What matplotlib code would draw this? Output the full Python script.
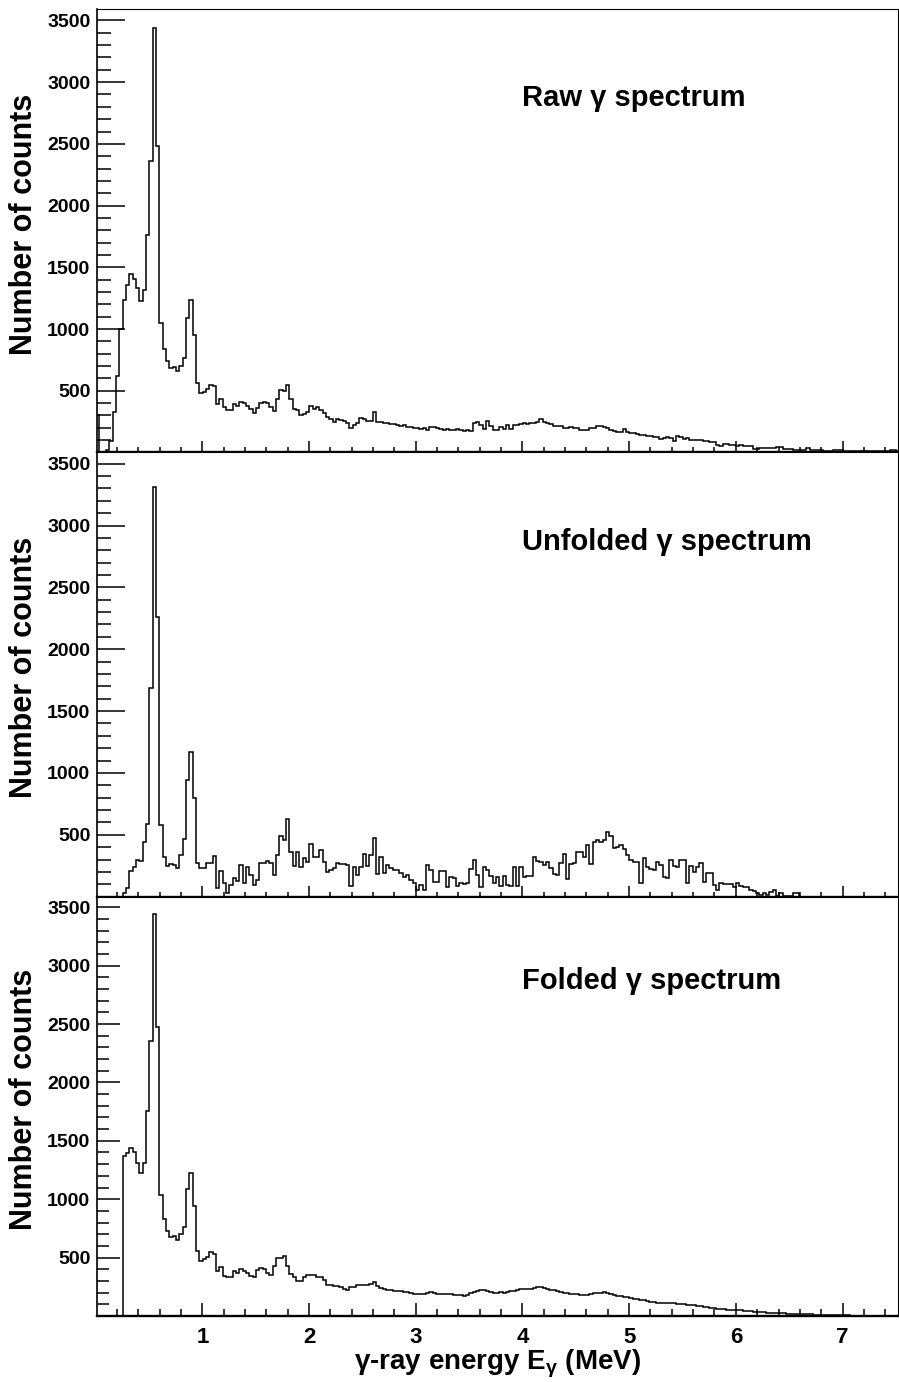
import numpy as np
import matplotlib
matplotlib.use("Agg")
import matplotlib.pyplot as plt
from matplotlib.ticker import MultipleLocator, NullFormatter

plt.rcParams['font.family'] = ['Liberation Sans', 'DejaVu Sans']
plt.rcParams['font.weight'] = 'bold'
plt.rcParams['mathtext.fontset'] = 'custom'
plt.rcParams['mathtext.rm'] = 'Liberation Sans:bold'
plt.rcParams['mathtext.it'] = 'Liberation Sans:bold'
plt.rcParams['mathtext.bf'] = 'Liberation Sans:bold'

# ---------------- data ----------------
BIN_LO = 0.003      # MeV, lower edge of first bin
BIN_W = 0.03125     # MeV, bin width

raw_counts = [
    300, 5, 5, 20, 90, 330, 619, 1004, 1233, 1354,
    1444, 1409, 1336, 1225, 1314, 1759, 2360, 3438, 2481, 1045,
    835, 744, 682, 696, 661, 701, 763, 1086, 1233, 950,
    559, 478, 491, 518, 550, 537, 389, 432, 370, 343,
    348, 391, 378, 410, 397, 375, 356, 321, 364, 397,
    410, 397, 370, 337, 437, 504, 499, 545, 437, 356,
    348, 307, 310, 330, 375, 350, 370, 345, 318, 290,
    270, 245, 275, 262, 255, 240, 200, 225, 240, 282,
    270, 255, 258, 330, 250, 245, 238, 242, 228, 232,
    220, 215, 222, 210, 205, 200, 195, 190, 200, 185,
    205, 210, 198, 190, 182, 188, 180, 185, 190, 182,
    175, 185, 178, 238, 245, 225, 187, 255, 214, 182,
    185, 209, 187, 222, 187, 220, 225, 232, 236, 230,
    238, 241, 244, 271, 249, 238, 234, 214, 218, 212,
    195, 201, 204, 198, 201, 182, 186, 180, 195, 195,
    212, 215, 208, 200, 182, 178, 165, 170, 187, 165,
    160, 162, 150, 145, 138, 135, 130, 128, 127, 110,
    115, 122, 118, 97, 133, 128, 108, 115, 102, 100,
    104, 98, 95, 90, 86, 88, 58, 55, 65, 68,
    64, 61, 55, 57, 54, 52, 53, 30, 28, 40,
    38, 37, 40, 38, 45, 47, 30, 27, 26, 20,
    22, 18, 20, 36, 22, 20, 18, 21, 12, 10,
    14, 20, 22, 18, 15, 14, 12, 14, 15, 13,
    12, 14, 13, 12, 13, 11, 12, 14, 20, 18,
    15,
]

unfolded_counts = [
    0, 0, 0, 0, 0, 0, 0, 0, 27, 68,
    211, 243, 297, 291, 445, 588, 1690, 3308, 2259, 580,
    324, 248, 264, 256, 229, 337, 464, 944, 1173, 795,
    270, 229, 229, 270, 275, 329, 68, 210, 113, 27,
    95, 149, 130, 256, 108, 243, 175, 95, 135, 270,
    275, 291, 270, 175, 337, 491, 458, 626, 364, 248,
    364, 240, 310, 283, 423, 324, 324, 378, 283, 202,
    216, 229, 275, 264, 264, 256, 87, 243, 175, 238,
    345, 248, 337, 477, 184, 324, 189, 256, 229, 216,
    216, 189, 162, 175, 135, 108, 54, 95, 54, 256,
    216, 121, 121, 210, 210, 81, 162, 148, 87, 108,
    103, 108, 221, 297, 175, 76, 238, 216, 167, 113,
    162, 87, 167, 95, 87, 238, 87, 238, 157, 167,
    167, 324, 291, 283, 256, 283, 229, 184, 175, 270,
    343, 140, 264, 270, 364, 364, 318, 418, 261, 445,
    458, 445, 458, 526, 491, 391, 399, 418, 383, 337,
    297, 283, 283, 108, 310, 243, 221, 216, 283, 256,
    162, 148, 297, 248, 243, 297, 297, 108, 248, 202,
    238, 270, 121, 194, 189, 95, 54, 108, 103, 103,
    103, 76, 108, 87, 76, 81, 54, 49, 27, 13,
    33, 13, 41, 54, 5, 33, 5, 8, 8, 27,
    27, 0, 0, 0, 0, 0, 0, 0, 0, 0,
    0, 0, 0, 0, 0, 0, 0, 0, 0, 0,
    0, 0, 0, 0, 0, 0, 0, 0, 0, 0,
    0,
]

folded_counts = [
    0, 0, 0, 0, 0, 0, 0, 0, 1373, 1393,
    1435, 1407, 1313, 1227, 1313, 1758, 2357, 3442, 2477, 1036,
    831, 731, 673, 685, 651, 699, 759, 1087, 1227, 942,
    559, 474, 485, 508, 551, 528, 385, 422, 342, 337,
    337, 388, 371, 399, 385, 371, 342, 337, 394, 408,
    399, 371, 351, 428, 494, 494, 516, 428, 357, 337,
    302, 302, 331, 351, 351, 351, 331, 331, 305, 268,
    262, 257, 258, 252, 232, 225, 245, 252, 262, 265,
    263, 268, 270, 288, 255, 240, 228, 222, 220, 218,
    215, 210, 208, 205, 200, 192, 188, 185, 188, 200,
    203, 195, 190, 188, 186, 187, 186, 184, 182, 176,
    174, 180, 198, 208, 215, 222, 222, 218, 205, 200,
    200, 202, 200, 205, 215, 218, 225, 228, 228, 230,
    235, 240, 245, 247, 242, 232, 225, 220, 212, 205,
    200, 195, 190, 188, 186, 182, 180, 182, 188, 194,
    198, 200, 202, 200, 190, 180, 172, 168, 165, 160,
    153, 148, 143, 140, 133, 128, 122, 117, 114, 112,
    111, 110, 109, 108, 106, 104, 100, 97, 94, 90,
    86, 82, 78, 74, 71, 67, 64, 60, 57, 55,
    53, 51, 49, 48, 45, 42, 40, 37, 34, 32,
    30, 28, 26, 25, 24, 23, 22, 21, 20, 19,
    17, 16, 15, 14, 13, 12, 11, 10, 9, 8,
    8, 7, 7, 6, 5, 5, 4, 4, 3, 3,
    3, 2, 2, 2, 2, 2, 1, 1, 1, 1,
    1,
]

panel_titles = ["Raw \u03b3 spectrum", "Unfolded \u03b3 spectrum", "Folded \u03b3 spectrum"]
ytick_values = [500, 1000, 1500, 2000, 2500, 3000, 3500]
xtick_values = [1, 2, 3, 4, 5, 6, 7]
y_label = "Number of counts"
x_label = "\u03b3-ray energy E$_{\u03b3}$ (MeV)"

# ---------------- layout ----------------
W, H = 899, 1382
fig = plt.figure(figsize=(W / 100, H / 100), dpi=100)
left_px, right_px = 97.3, 898.0
panels_px = [(9.3, 452.5), (452.5, 896.7), (896.7, 1316.0)]
XMIN, XMAX = 0.015, 7.52
YMAX = 3590

series = [raw_counts, unfolded_counts, folded_counts]
PX = 0.72  # points per pixel at 100 dpi

for i, (vals, title, (top, bot)) in enumerate(zip(series, panel_titles, panels_px)):
    ax = fig.add_axes([left_px / W, 1 - bot / H, (right_px - left_px) / W, (bot - top) / H])
    edges = BIN_LO + BIN_W * np.arange(len(vals) + 1)
    ax.stairs(vals, edges, color='black', linewidth=1.1, baseline=0)
    ax.set_xlim(XMIN, XMAX)
    ax.set_ylim(0, YMAX)

    ax.set_xticks(xtick_values)
    ax.xaxis.set_minor_locator(MultipleLocator(0.2))
    ax.set_yticks(ytick_values)
    ax.yaxis.set_minor_locator(MultipleLocator(100))

    last = (i == 2)
    if last:
        ymaj, ymin_, xmaj, xmin_ = 23, 12, 12.7, 6.7
    else:
        ymaj, ymin_, xmaj, xmin_ = 27.7, 13.7, 10.7, 5.3
    ax.tick_params(axis='y', which='major', direction='in', length=ymaj * PX, width=1.1,
                   labelsize=14, pad=5, left=True, right=False)
    ax.tick_params(axis='y', which='minor', direction='in', length=ymin_ * PX, width=1.1,
                   left=True, right=False)
    ax.tick_params(axis='x', which='major', direction='in', length=xmaj * PX, width=1.1,
                   labelsize=16, pad=8, bottom=True, top=False)
    ax.tick_params(axis='x', which='minor', direction='in', length=xmin_ * PX, width=1.1,
                   bottom=True, top=False)
    if not last:
        ax.xaxis.set_major_formatter(NullFormatter())
    for lab in ax.get_xticklabels() + ax.get_yticklabels():
        lab.set_fontweight('bold')

    ax.spines['bottom'].set_linewidth(1.7)
    ax.spines['left'].set_linewidth(1.2)
    ax.spines['top'].set_linewidth(0.8)
    ax.spines['right'].set_linewidth(0.8)

    ax.set_ylabel(y_label, fontsize=22, fontweight='bold')
    label_center_px = (top + bot) / 2 - 7
    ax.yaxis.set_label_coords((24 - left_px) / (right_px - left_px),
                              (bot - label_center_px) / (bot - top))
    ax.yaxis.label.set_va('center')

    ax.text(4.0, 2870, title, fontsize=21, fontweight='bold', ha='left', va='center')

    if last:
        ax.set_xlabel(x_label, fontsize=20, fontweight='bold', labelpad=0)

fig.savefig("out.png", dpi=100)
